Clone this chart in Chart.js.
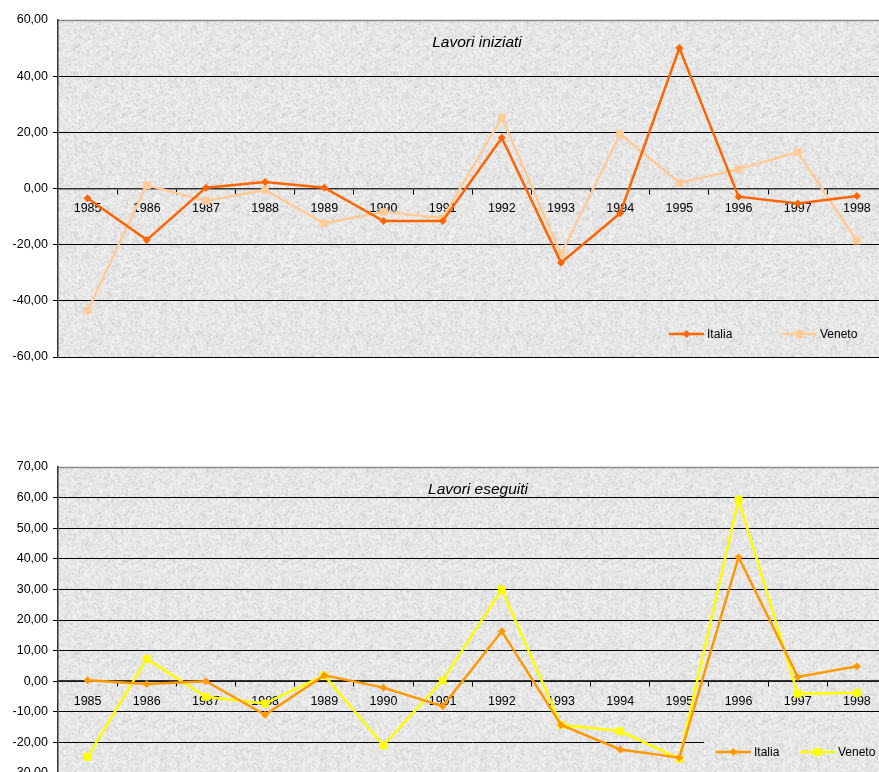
<!DOCTYPE html>
<html>
<head>
<meta charset="utf-8">
<script src="https://cdn.jsdelivr.net/npm/chart.js@4.4.0/dist/chart.umd.min.js"></script>
<style>
  html, body { margin: 0; padding: 0; background: #ffffff; overflow: hidden; width: 879px; height: 772px; position: relative; }
  canvas { position: absolute; left: 0; }
  #chartIniziati { top: 0; }
  #chartEseguiti { top: 447px; }
</style>
</head>
<body>
<canvas id="chartIniziati" width="892" height="372"></canvas>
<canvas id="chartEseguiti" width="892" height="340"></canvas>
<script>
// Annual percentage changes, 1985-1998
const years = ['1985', '1986', '1987', '1988', '1989', '1990', '1991', '1992', '1993', '1994', '1995', '1996', '1997', '1998'];
const seriesNames = ['Italia', 'Veneto'];

// Lavori iniziati
const iniziatiItalia = [-3.5, -18.3, 0.3, 2.3, 0.3, -11.6, -11.6, 18.1, -26.4, -8.8, 50.0, -2.9, -5.3, -2.7];
const iniziatiVeneto = [-43.5, 1.2, -4.4, -0.5, -12.4, -8.3, -10.6, 25.3, -23.3, 19.4, 2.0, 6.9, 13.0, -18.6];

// Lavori eseguiti
const eseguitiItalia = [0.3, -0.9, 0.0, -11.0, 1.9, -2.1, -8.2, 16.3, -14.3, -22.3, -25.0, 40.5, 1.4, 4.9];
const eseguitiVeneto = [-24.7, 7.3, -5.1, -7.3, 1.9, -21.0, 0.2, 30.0, -14.3, -16.3, -25.4, 59.4, -4.1, -3.8];

const chartTitles = ['Lavori iniziati', 'Lavori eseguiti'];

const FONT = "'Liberation Sans', Arial, sans-serif";
Chart.defaults.font.family = FONT;
Chart.defaults.font.size = 12.5;
Chart.defaults.color = '#000000';

// Grey granite-like fill for the plot area (deterministic speckle)
function makeGranite() {
  const size = 160;
  const c = document.createElement('canvas');
  c.width = size; c.height = size;
  const g = c.getContext('2d');
  let seed = 12345;
  const rnd = () => { seed = (seed * 1103515245 + 12345) & 0x7fffffff; return seed / 0x7fffffff; };
  const raw = new Float32Array(size * size);
  for (let i = 0; i < raw.length; i++) { const r = rnd(); raw[i] = 252 - 50 * r * r * r; }
  const img = g.createImageData(size, size);
  for (let y = 0; y < size; y++) {
    for (let x = 0; x < size; x++) {
      let s = 0;
      for (let dy = -1; dy <= 1; dy++) for (let dx = -1; dx <= 1; dx++) {
        s += raw[((y + dy + size) % size) * size + ((x + dx + size) % size)];
      }
      const v = Math.round(0.4 * raw[y * size + x] + 0.6 * s / 9) - 10;
      const k = (y * size + x) * 4;
      img.data[k] = v; img.data[k + 1] = v; img.data[k + 2] = v; img.data[k + 3] = 255;
    }
  }
  g.putImageData(img, 0, 0);
  return c;
}
const graniteTile = makeGranite();

function fmtComma(v) {
  return v.toFixed(2).replace('.', ',');
}

// Plot-area fill, frame, inner title and inner legend
const framePlugin = {
  id: 'frameDecor',
  beforeDraw(chart, args, opts) {
    const { ctx, chartArea: a } = chart;
    ctx.save();
    ctx.fillStyle = ctx.createPattern(graniteTile, 'repeat');
    ctx.fillRect(a.left, a.top, a.right - a.left, a.bottom - a.top);
    ctx.strokeStyle = '#8a8a8a';
    ctx.lineWidth = 1.5;
    ctx.beginPath();
    ctx.moveTo(a.left, a.top + 0.5);
    ctx.lineTo(a.right - 0.5, a.top + 0.5);
    ctx.lineTo(a.right - 0.5, a.bottom);
    ctx.stroke();
    ctx.restore();
  },
  afterDatasetsDraw(chart, args, opts) {
    const { ctx } = chart;
    ctx.save();
    if (opts.legendBox) {
      const b = opts.legendBox;
      ctx.fillStyle = ctx.createPattern(graniteTile, 'repeat');
      ctx.fillRect(b.x, b.y, b.w, b.h);
    }
    // title
    ctx.font = 'italic 15.5px ' + FONT;
    ctx.fillStyle = '#000000';
    ctx.textAlign = 'center';
    ctx.textBaseline = 'alphabetic';
    ctx.fillText(opts.title, opts.titleX, opts.titleY);
    // legend
    ctx.font = '12px ' + FONT;
    ctx.textAlign = 'left';
    ctx.textBaseline = 'middle';
    chart.data.datasets.forEach((ds, i) => {
      const x0 = opts.legendX[i];
      const y = opts.legendY;
      ctx.strokeStyle = ds.borderColor;
      ctx.lineWidth = ds.borderWidth;
      ctx.beginPath();
      ctx.moveTo(x0, y);
      ctx.lineTo(x0 + 35, y);
      ctx.stroke();
      ctx.fillStyle = ds.pointBackgroundColor;
      Chart.helpers.drawPoint(ctx, {
        pointStyle: ds.pointStyle, radius: ds.pointRadius, rotation: 0, borderWidth: 0
      }, x0 + 17.5, y);
      ctx.fillStyle = '#000000';
      ctx.fillText(ds.label, x0 + 38, y + 0.5);
    });
    ctx.restore();
  }
};

function buildChart(canvasId, italia, veneto, colors, yMin, yMax, step, padding, decor) {
  const datasets = [
    { label: seriesNames[0], data: italia, borderColor: colors[0], backgroundColor: colors[0],
      pointBackgroundColor: colors[0], pointBorderColor: colors[0], borderWidth: 2.5,
      pointStyle: 'rectRot', pointRadius: 4, pointBorderWidth: 0, tension: 0 },
    { label: seriesNames[1], data: veneto, borderColor: colors[1], backgroundColor: colors[1],
      pointBackgroundColor: colors[1], pointBorderColor: colors[1], borderWidth: 2.5,
      pointStyle: 'rect', pointRadius: 5.5, pointBorderWidth: 0, tension: 0 }
  ];
  return new Chart(document.getElementById(canvasId), {
    type: 'line',
    data: { labels: years, datasets },
    plugins: [framePlugin],
    options: {
      responsive: false,
      animation: false,
      events: [],
      layout: { padding },
      plugins: {
        legend: { display: false },
        title: { display: false },
        tooltip: { enabled: false },
        frameDecor: decor
      },
      scales: {
        x: {
          type: 'category',
          position: { y: 0 },
          offset: true,
          grid: { offset: true, drawOnChartArea: false, drawTicks: true, tickLength: 5, color: '#000000', lineWidth: 1 },
          border: { display: true, color: '#333333', width: 1.5 },
          ticks: { padding: 7.5, color: '#000000', maxRotation: 0, autoSkip: false, font: { size: 12.5 } }
        },
        y: {
          min: yMin, max: yMax,
          afterFit(scale) { scale.width = 58; },
          grid: {
            color: (c) => (c.tick && c.tick.value === yMax) ? 'rgba(0,0,0,0)' : '#000000',
            lineWidth: 1, tickLength: 5, drawTicks: true
          },
          border: { display: true, color: '#333333', width: 1.5 },
          ticks: { stepSize: step, padding: 5, color: '#000000', callback: (v) => fmtComma(v), font: { size: 12.5 } }
        }
      }
    }
  });
}

buildChart('chartIniziati', iniziatiItalia, iniziatiVeneto, ['#ff6600', '#ffcc99'], -60, 60, 20,
  { top: 20, right: 2, bottom: 15, left: 0 },
  { title: chartTitles[0], titleX: 477, titleY: 47, legendX: [669, 782], legendY: 334 });

buildChart('chartEseguiti', eseguitiItalia, eseguitiVeneto, ['#ff9900', '#ffff00'], -30, 70, 10,
  { top: 20, right: 2, bottom: 14, left: 0 },
  { title: chartTitles[1], titleX: 478, titleY: 47, legendX: [716, 800], legendY: 305,
    legendBox: { x: 704, y: 289, w: 186, h: 34 } });
</script>
</body>
</html>
